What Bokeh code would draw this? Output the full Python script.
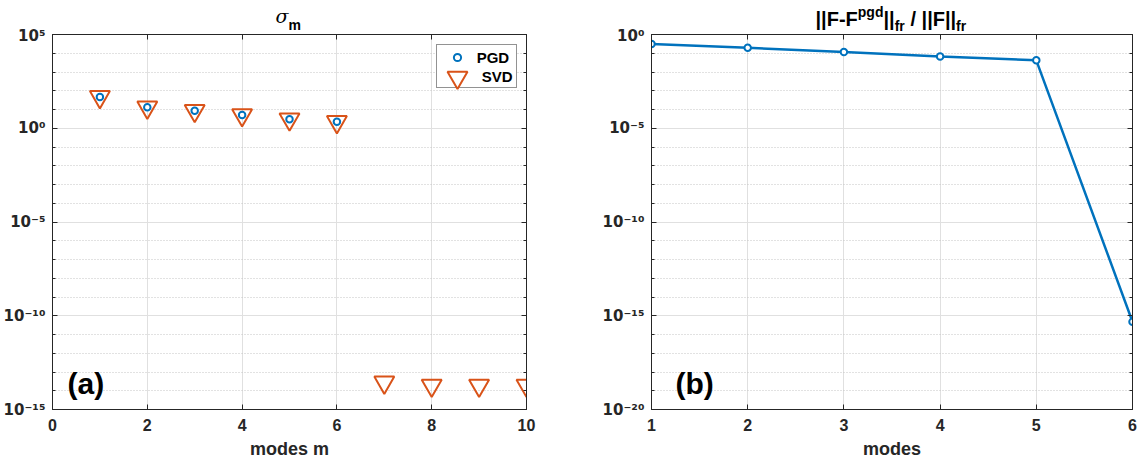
import math
from bokeh.plotting import figure
from bokeh.layouts import row, column
from bokeh.models import (FixedTicker, CustomJSTickFormatter, Range1d, LinearAxis, LogAxis,
                          Label, Legend, LegendItem)
from bokeh.embed import file_html
from bokeh.resources import INLINE

# ---------------- data ----------------
modes_svd = [1, 2, 3, 4, 5, 6, 7, 8, 9, 10]
sigma_svd = [47, 13, 8.6, 5.1, 3.0, 2.2, 2.8e-14, 1.9e-14, 1.9e-14, 1.9e-14]
modes_pgd = [1, 2, 3, 4, 5, 6]
sigma_pgd = [47, 13, 8.6, 5.1, 3.0, 2.2]
modes_err = [1, 2, 3, 4, 5, 6]
err_rel = [0.31, 0.196, 0.115, 0.068, 0.042, 4.8e-16]

x_ticks_a = [0, 2, 4, 6, 8, 10]
y_ticks_a = [1e-15, 1e-10, 1e-5, 1e0, 1e5]
x_ticks_b = [1, 2, 3, 4, 5, 6]
y_ticks_b = [1e-20, 1e-15, 1e-10, 1e-5, 1e0]

AXIS = "#262626"
BLUE = "#0072BD"
ORANGE = "#D95319"
FONT = "Liberation Sans"
TITLE_H = 34
OVERLAP = 8

SUP_JS = """
const e = Math.round(Math.log10(tick));
const m = {'-':'\u207b','0':'\u2070','1':'\u00b9','2':'\u00b2','3':'\u00b3','4':'\u2074',
           '5':'\u2075','6':'\u2076','7':'\u2077','8':'\u2078','9':'\u2079'};
return '10' + String(e).split('').map(c => m[c]).join('');
"""


def make_fig(width, bl, br, xr, yr, xt, yt, xlabel):
    p = figure(width=width, height=464 - TITLE_H + OVERLAP, x_range=Range1d(*xr),
               y_range=Range1d(*yr),
               y_axis_type="log", output_backend="svg", toolbar_location=None,
               min_border_left=bl, min_border_right=br, min_border_top=OVERLAP,
               min_border_bottom=55,
               background_fill_color="white", border_fill_color="white", border_fill_alpha=0)
    lo = round(math.log10(yr[0]))
    hi = round(math.log10(yr[1]))
    minor = [10.0 ** k for k in range(lo, hi + 1) if 10.0 ** k not in yt]
    xtick = FixedTicker(ticks=xt, minor_ticks=[])
    ytick = FixedTicker(ticks=yt, minor_ticks=minor)
    xa = p.xaxis[0]
    ya = p.yaxis[0]
    xa.ticker = xtick
    ya.ticker = ytick
    p.xgrid.ticker = xtick
    p.ygrid.ticker = ytick
    ya.formatter = CustomJSTickFormatter(code=SUP_JS)
    for ax in (xa, ya):
        ax.axis_line_color = AXIS
        ax.major_tick_line_color = AXIS
        ax.minor_tick_line_color = AXIS
        ax.major_tick_in = 5
        ax.major_tick_out = 0
        ax.minor_tick_in = 3
        ax.minor_tick_out = 0
        ax.major_label_text_font_style = "bold"
        ax.major_label_text_color = AXIS
    xa.major_label_text_font = FONT
    xa.major_label_text_font_size = "16px"
    ya.major_label_text_font = "DejaVu Sans"
    ya.major_label_text_font_size = "15px"
    ya.major_label_standoff = 7
    xa.major_label_standoff = 9
    xa.axis_label = xlabel
    xa.axis_label_text_font = FONT
    xa.axis_label_text_font_size = "18px"
    xa.axis_label_text_font_style = "bold"
    xa.axis_label_text_color = AXIS
    xa.axis_label_standoff = 5

    blank = "return ''"
    top = LinearAxis(ticker=xtick, formatter=CustomJSTickFormatter(code=blank),
                     major_tick_in=5, major_tick_out=0, major_label_standoff=0,
                     major_label_text_font_size="1px",
                     axis_line_color=AXIS, major_tick_line_color=AXIS, minor_tick_line_color=None)
    right = LogAxis(ticker=ytick, formatter=CustomJSTickFormatter(code=blank),
                    major_tick_in=5, major_tick_out=0, minor_tick_in=3, minor_tick_out=0,
                    major_label_standoff=0, major_label_text_font_size="1px", axis_line_color=AXIS,
                    major_tick_line_color=AXIS, minor_tick_line_color=AXIS)
    p.add_layout(top, "above")
    p.add_layout(right, "right")

    p.xgrid.grid_line_color = "#E0E0E0"
    p.ygrid.grid_line_color = "#E0E0E0"
    p.ygrid.minor_grid_line_color = "#C4C4C4"
    p.ygrid.minor_grid_line_dash = "1 2"
    p.outline_line_color = AXIS
    return p


def title_fig(width):
    t = figure(width=width, height=TITLE_H, x_range=Range1d(0, width),
               y_range=Range1d(TITLE_H, 0), output_backend="svg", toolbar_location=None,
               min_border=0, x_axis_type=None, y_axis_type=None,
               background_fill_color="white", border_fill_color="white")
    t.outline_line_color = None
    t.xgrid.visible = False
    t.ygrid.visible = False
    return t


def tlab(p, x, y, text, size, style="bold", font=FONT):
    p.add_layout(Label(x=x, y=y, text=text, text_font=font, text_font_size=size,
                       text_font_style=style, text_color="black",
                       text_baseline="alphabetic", text_align="left"))


def slab(p, x, y, text, size):
    p.add_layout(Label(x=x, y=y, x_units="screen", y_units="screen", text=text,
                       text_font=FONT, text_font_size=size, text_font_style="bold",
                       text_color="black", text_baseline="alphabetic", text_align="left"))


# ---------------- left panel (a) ----------------
ta = title_fig(560)
tlab(ta, 275, 15.9, "σ", "19px", style="italic", font="DejaVu Serif")
tlab(ta, 288, 24.6, "m", "14px")

pa = make_fig(560, 52, 34, (0, 10), (1e-15, 1e5), x_ticks_a, y_ticks_a, "modes m")
r_svd = pa.scatter(modes_svd, sigma_svd, marker="inverted_triangle", size=20,
                   line_color=ORANGE, line_width=2, fill_color=None)
r_pgd = pa.scatter(modes_pgd, sigma_pgd, marker="circle", size=6.5,
                   line_color=BLUE, line_width=2, fill_color="white")
r_blank = pa.scatter(x=[], y=[], marker="square", size=1, line_alpha=0, fill_alpha=0)

common = dict(padding=0, margin=0, spacing=0, label_text_font=FONT, label_text_font_style="bold",
              label_text_font_size="15px", label_text_color="black",
              label_text_baseline="middle")
leg0 = Legend(items=[LegendItem(label="", renderers=[r_blank])], location=(384, 321),
              glyph_width=79, glyph_height=42, label_width=0, label_height=0, label_standoff=0,
              border_line_color=AXIS, border_line_width=1, background_fill_color="white",
              background_fill_alpha=1, **common)
leg1 = Legend(items=[LegendItem(label="PGD", renderers=[r_pgd])], location=(395.7, 342.7),
              glyph_width=18, glyph_height=18, label_height=18, label_standoff=11,
              border_line_color=None, background_fill_alpha=0, **common)
leg2 = Legend(items=[LegendItem(label="SVD", renderers=[r_svd])], location=(379.7, 307.3),
              glyph_width=50, glyph_height=50, label_height=50, label_standoff=-5,
              border_line_color=None, background_fill_alpha=0, **common)
pa.add_layout(leg0, "center")
pa.add_layout(leg1, "center")
pa.add_layout(leg2, "center")
slab(pa, 15, 26, "(a)", "30px")

# ---------------- right panel (b) ----------------
tb = title_fig(583)
tlab(tb, 255, 18.2, "||F-F", "20px")
tlab(tb, 297.3, 11.6, "pgd", "14px")
tlab(tb, 323, 18.2, "||", "20px")
tlab(tb, 334.2, 25.6, "fr", "14px")
tlab(tb, 350.0, 18.2, "/ ||F||", "20px")
tlab(tb, 395.6, 25.6, "fr", "14px")

pb = make_fig(583, 91, 11, (1, 6), (1e-20, 1e0), x_ticks_b, y_ticks_b, "modes")
pb.line(modes_err, err_rel, line_width=2.5, line_color=BLUE)
pb.scatter(modes_err, err_rel, marker="circle", size=6.5, line_color=BLUE, line_width=2,
           fill_color="white")
slab(pb, 24, 26, "(b)", "30px")

plots = row(pa, pb, margin=(-OVERLAP, 0, 0, 0))
layout = column(row(ta, tb), plots)
open("out.html", "w").write(file_html(layout, INLINE))
